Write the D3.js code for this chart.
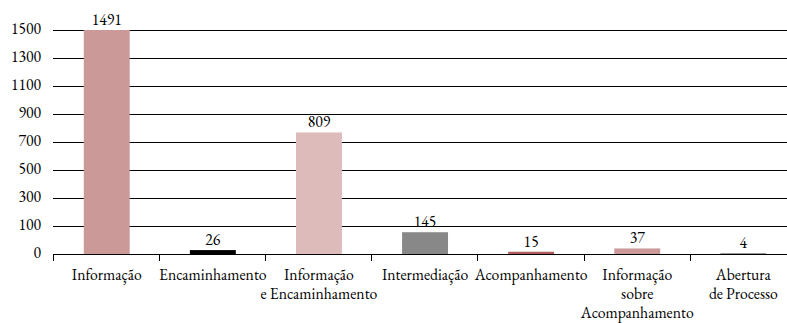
<!DOCTYPE html>
<html>
<head>
<meta charset="utf-8">
<script src="https://cdn.jsdelivr.net/npm/d3@7"></script>
<style>
  body { margin: 0; background: #fff; }
</style>
</head>
<body>
<div class="chart-container"></div>
<script>
const categories = [
    ['Informação'],
    ['Encaminhamento'],
    ['Informação', 'e Encaminhamento'],
    ['Intermediação'],
    ['Acompanhamento'],
    ['Informação', 'sobre', 'Acompanhamento'],
    ['Abertura', 'de Processo']
]
const values = [1491, 26, 809, 145, 15, 37, 4]
const colors = ['#cc9999', '#000000', '#ddbbbb', '#888888', '#b35b5b', '#cc9999', '#555555']
const tickLabels = ['0', '100', '300', '500', '700', '900', '1100', '1300', '1500']

const width = 787
const height = 323
const plotLeft = 53
const plotBottom = 254
const plotTop = 30
const FONT = "'EB Garamond', 'Liberation Serif', serif"
const FONT_SIZE = 15.7

const svg = d3
    .select('.chart-container')
    .append('svg')
    .attr('width', width)
    .attr('height', height)
    .attr('font-family', FONT)
    .attr('font-size', FONT_SIZE)

const x = d3
    .scaleBand()
    .domain(d3.range(categories.length))
    .range([plotLeft, plotLeft + 7 * 106.3])
    .paddingInner(0.567)
    .paddingOuter(0.29)

const y = d3.scaleLinear().domain([0, 1491]).range([plotBottom, plotTop])

// tick labels are evenly spaced on the original axis
const yTick = d3.scalePoint().domain(tickLabels).range([plotBottom, plotTop])

svg.append('g')
    .selectAll('line')
    .data(tickLabels)
    .enter()
    .append('line')
    .attr('x1', plotLeft)
    .attr('x2', width)
    .attr('y1', d => Math.round(yTick(d)) + 0.5)
    .attr('y2', d => Math.round(yTick(d)) + 0.5)
    .attr('stroke', '#000')
    .attr('stroke-width', 1)

svg.append('g')
    .selectAll('text')
    .data(tickLabels)
    .enter()
    .append('text')
    .attr('x', 41)
    .attr('y', d => yTick(d) + 4)
    .attr('text-anchor', 'end')
    .attr('fill', '#000')
    .text(d => d)

svg.append('g')
    .selectAll('rect')
    .data(values)
    .enter()
    .append('rect')
    .attr('x', (d, i) => x(i))
    .attr('width', x.bandwidth())
    .attr('y', d => y(d))
    .attr('height', d => plotBottom - y(d))
    .attr('fill', (d, i) => colors[i])

svg.append('g')
    .selectAll('text')
    .data(values)
    .enter()
    .append('text')
    .attr('x', (d, i) => x(i) + x.bandwidth() / 2)
    .attr('y', d => y(d) - 5)
    .attr('text-anchor', 'middle')
    .attr('fill', '#000')
    .text(d => d)

// category boundary ticks
const step = x.step()
svg.append('g')
    .selectAll('line')
    .data(d3.range(categories.length + 1))
    .enter()
    .append('line')
    .attr('x1', i => Math.round(plotLeft + i * step) + 0.5)
    .attr('x2', i => Math.round(plotLeft + i * step) + 0.5)
    .attr('y1', plotBottom)
    .attr('y2', plotBottom + 7)
    .attr('stroke', '#000')

const label = svg
    .append('g')
    .selectAll('text')
    .data(categories)
    .enter()
    .append('text')
    .attr('text-anchor', 'middle')
    .attr('fill', '#000')

label
    .selectAll('tspan')
    .data((d, i) => d.map(line => ({ line, i })))
    .enter()
    .append('tspan')
    .attr('x', d => x(d.i) + x.bandwidth() / 2)
    .attr('y', (d, j) => 280 + j * 19)
    .text(d => d.line)
</script>
</body>
</html>
